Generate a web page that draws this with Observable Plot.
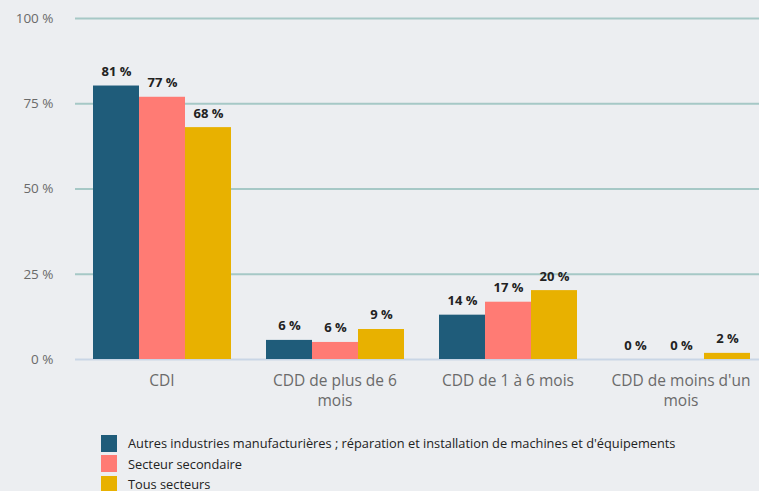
<!DOCTYPE html>
<html><head><meta charset="utf-8">
<script src="https://cdn.jsdelivr.net/npm/d3@7"></script>
<script src="https://cdn.jsdelivr.net/npm/@observablehq/plot@0.6"></script>
<style>
html,body{margin:0;padding:0;background:#eceef1;overflow:hidden;font-family:"Open Sans",sans-serif;}
#legend{margin:17px 0 0 101px;font-size:12.8px;color:#222;}
.item{display:flex;align-items:center;height:20.5px;}
.sw{width:16px;height:17px;margin-right:11px;}
</style></head>
<body><div id="chart"></div><div id="legend"></div>
<script>
const categories = ["CDI", "CDD de plus de 6 mois", "CDD de 1 à 6 mois", "CDD de moins d'un mois"];
const categoryLines = ["CDI", "CDD de plus de 6\nmois", "CDD de 1 à 6 mois", "CDD de moins d'un\nmois"];
const series = ["Autres industries manufacturières ; réparation et installation de machines et d'équipements", "Secteur secondaire", "Tous secteurs"];
const colors = ["#1f5c7a", "#ff7b74", "#e8b100"];
const valuesAutres = [80.2, 5.6, 13.0, 0];
const valuesSecondaire = [76.9, 5.0, 16.8, 0];
const valuesTous = [68.0, 8.8, 20.2, 1.8];
const labelsAutres = ["81 %", "6 %", "14 %", "0 %"];
const labelsSecondaire = ["77 %", "6 %", "17 %", "0 %"];
const labelsTous = ["68 %", "9 %", "20 %", "2 %"];
const yTicks = [0, 25, 50, 75, 100];

const vals = [valuesAutres, valuesSecondaire, valuesTous];
const labs = [labelsAutres, labelsSecondaire, labelsTous];
const data = [];
categories.forEach((c, i) => series.forEach((s, j) => data.push({cat: c, series: s, value: vals[j][i], label: labs[j][i]})));

const chart = Plot.plot({
  width: 759, height: 416,
  marginLeft: 75, marginRight: -8, marginTop: 18, marginBottom: 57,
  style: {background: "transparent", fontFamily: "Open Sans, sans-serif", overflow: "hidden"},
  fx: {domain: categories, padding: 0, label: null},
  x: {domain: series, axis: null, paddingInner: 0, paddingOuter: 0.37},
  y: {domain: [0, 100], label: null},
  color: {domain: series, range: colors},
  marks: [
    Plot.ruleY(yTicks.filter(d => d > 0), {stroke: "#a6c8c6", strokeWidth: 2}),
    Plot.ruleY([0], {stroke: "#c9d6e6", strokeWidth: 2}),
    Plot.axisY({ticks: yTicks, tickSize: 0, tickPadding: 22, tickFormat: d => d + " %", fontSize: 13.5, color: "#6a6a6a"}),
    Plot.axisFx({anchor: "bottom", tickSize: 0, tickPadding: 13, fontSize: 15.5, color: "#6a6a6a", tickFormat: (d) => categoryLines[categories.indexOf(d)], lineHeight: 1.25}),
    Plot.barY(data, {fx: "cat", x: "series", y: "value", fill: "series", insetLeft: 0, insetRight: 0}),
    Plot.text(data, {fx: "cat", x: "series", y: "value", text: "label", dy: -10, lineAnchor: "bottom", fontSize: 13, fontWeight: "bold", fill: "#222"})
  ]
});
document.getElementById("chart").appendChild(chart);
const lg = document.getElementById("legend");
series.forEach((s, i) => {
  const d = document.createElement("div"); d.className = "item";
  d.innerHTML = `<span class="sw" style="background:${colors[i]}"></span><span>${s}</span>`;
  lg.appendChild(d);
});
</script></body></html>
